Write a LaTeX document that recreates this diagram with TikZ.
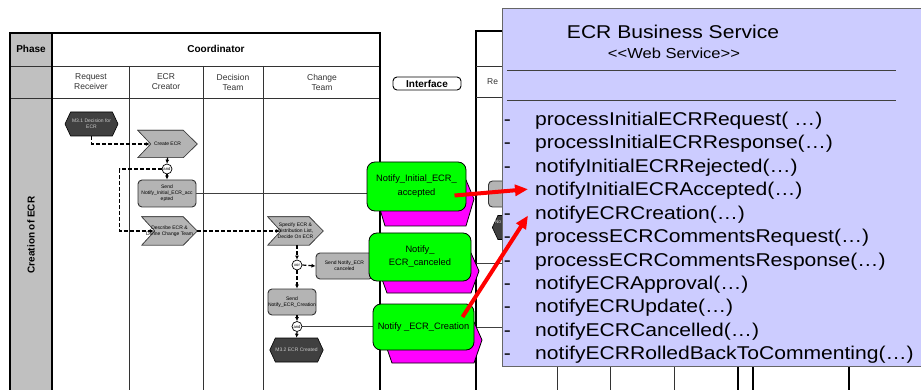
\documentclass[tikz,border=0pt]{standalone}
\usepackage{fontspec}
\setmainfont{Liberation Sans}
\newfontfamily\svcfont[FakeStretch=1.14]{Liberation Sans}
\usetikzlibrary{shapes.symbols,arrows.meta}

\definecolor{phasegray}{HTML}{C0C0C0}
\definecolor{taskgray}{HTML}{B4B4B4}
\definecolor{taskshade}{HTML}{707070}
\definecolor{eventdark}{HTML}{404040}
\definecolor{ifgreen}{HTML}{00FF00}
\definecolor{ifmagenta}{HTML}{FF00FF}
\definecolor{svcblue}{HTML}{CCCCFF}

\pgfdeclarelayer{back}
\pgfdeclarelayer{front}
\pgfsetlayers{back,main,front}

\tikzset{
  gridthin/.style={line width=0.8pt, draw=black!80},
  gridthick/.style={line width=1.8pt, draw=black},
  hdr/.style={font=\fontsize{10}{12}\selectfont\bfseries, inner sep=0},
  lanelbl/.style={font=\fontsize{8.5}{10}\selectfont, align=center, text=black!80, inner sep=0},
  pill/.style={draw, line width=0.9pt, rounded corners=4, fill=white, minimum width=68,
    minimum height=13, inner sep=0, font=\fontsize{10}{12}\selectfont\bfseries},
  smalltext/.style={font=\fontsize{5}{6}\selectfont, align=center, inner sep=0},
  chevbox/.style={smalltext, rectangle, minimum width=59, minimum height=27},
  chevface/.style={draw=black!75, fill=taskgray, line width=0.6pt},
  chevshadow/.style={draw=black!75, fill=taskshade, line width=0.6pt},
  evt/.style={smalltext, signal, signal to=east and west, signal pointer angle=130,
    draw=black, fill=eventdark, text=white!80!black, minimum width=53,
    minimum height=24, line width=0.6pt},
  gate/.style={circle, draw=black, fill=white, line width=0.7pt, minimum size=10,
    inner sep=0, font=\fontsize{4.2}{5}\selectfont},
  task/.style={smalltext, draw=black!80, fill=taskgray, rounded corners=4, line width=0.9pt},
  dflow/.style={dash pattern=on 4pt off 2pt, line width=1.2pt, -{Latex[length=4pt,width=4pt]}},
  sflow/.style={line width=1.2pt, -{Latex[length=4pt,width=4pt]}},
  link/.style={line width=0.8pt, draw=black!75},
  mg/.style={fill=ifmagenta, draw=black, line width=0.8pt},
  ifbox/.style={draw=black, fill=ifgreen, rounded corners=8, line width=0.8pt,
    align=center, font=\fontsize{9.3}{14}\selectfont, inner sep=0},
  svc/.style={draw=black!60, fill=svcblue, line width=1pt, minimum width=430,
    minimum height=358, inner sep=0},
  svctitle/.style={font=\svcfont\fontsize{18.5}{20}\selectfont, inner sep=0,
    text height=13.2, text depth=0},
  svcstereo/.style={font=\svcfont\fontsize{14.5}{16}\selectfont, inner sep=0,
    text height=10.4, text depth=0},
  opname/.style={font=\svcfont\fontsize{18.5}{20}\selectfont, inner sep=0,
    text height=13.2, text depth=0},
  svcsep/.style={line width=0.8pt, draw=black!75},
  redarrow/.style={draw=red, line width=4pt, -{Triangle[length=13pt,width=11pt]}},
}

% chevron (process step) drawn behind the text of a chevbox node
\newcommand\drawchev[1]{%
  \begin{pgfonlayer}{back}
    \draw[chevshadow, yshift=-2pt] (#1.north west) -- ([xshift=-14pt]#1.north east)
      -- (#1.east) -- ([xshift=-14pt]#1.south east) -- (#1.south west)
      -- ([xshift=13pt]#1.west) -- cycle;
    \draw[chevface] (#1.north west) -- ([xshift=-14pt]#1.north east)
      -- (#1.east) -- ([xshift=-14pt]#1.south east) -- (#1.south west)
      -- ([xshift=13pt]#1.west) -- cycle;
  \end{pgfonlayer}}

\begin{document}
\begin{tikzpicture}[x=1pt,y=-1pt]
\useasboundingbox (0,0) rectangle (921,390);

% ---------- swimlane tables ----------
\begin{pgfonlayer}{back}
  \fill[white] (0,0) rectangle (921,390);
  \fill[phasegray] (10,33) rectangle (52,390);
  \draw[gridthin] (10,66) -- (380,66) (10,98) -- (380,98);
  \draw[gridthin] (129,66) -- (129,390) (203,66) -- (203,390) (263,66) -- (263,390);
  \draw[gridthick] (10,390) -- (10,33) -- (380,33) -- (380,390) (52,33) -- (52,390);
  % partner table on the right
  \draw[gridthick] (476,390) -- (476,31) -- (930,31);
  \draw[gridthin] (476,66) -- (930,66) (476,97) -- (930,97);
  \draw[gridthin] (557,97) -- (557,390) (610,97) -- (610,390) (674,97) -- (674,390);
  \draw[gridthick] (738,31) -- (738,390) (753,31) -- (753,390) (849,31) -- (849,390);
\end{pgfonlayer}

\node[hdr] (phase) at (31,49) {Phase};
\node[hdr] (coord) at (216,49) {Coordinator};
\node[lanelbl] (lane1) at (91,82) {Request\\Receiver};
\node[lanelbl] (lane2) at (166,82) {ECR\\Creator};
\node[lanelbl] (lane3) at (233,82) {Decision\\Team};
\node[lanelbl] (lane4) at (322,82) {Change\\Team};
\node[lanelbl, anchor=west] (lane5) at (487,82) {Re};
\node[hdr, rotate=90] (phname) at (31,235) {Creation of ECR};
\node[pill] (iface) at (427,83.5) {Interface};

% ---------- coordinator process ----------
\node[evt] (m31) at (91.5,124) {M3.1 Decision for\\ECR};
\node[chevbox] (create) at (167.5,144) {Create ECR};
\drawchev{create}
\node[gate] (and1) at (167,169) {and};
\node[task, minimum width=58, minimum height=27] (sendinit) at (167,193.5)
  {Send\\Notify\_Initial\_ECR\_acc\\epted};
\node[chevbox, minimum width=55, minimum height=28] (describe) at (169.5,231)
  {Describe ECR \&\\Define Change Team};
\drawchev{describe}
\node[chevbox, minimum width=55, minimum height=28] (specify) at (295.5,231)
  {Specify ECR \&\\Distribution List,\\Decide On ECR};
\drawchev{specify}
\node[gate] (xor) at (297,265) {xor};
\node[task, minimum width=57, minimum height=26] (sendcancel) at (344.5,266)
  {Send Notify\_ECR\\canceled};
\node[task, minimum width=48, minimum height=26] (sendcreate) at (292,302)
  {Send\\Notify\_ECR\_Creation};
\node[gate] (and2) at (297,326.5) {and};
\node[evt] (m32) at (296.5,350) {M3.2 ECR Created};

% partner process (mostly hidden)
\node[task, minimum width=26, minimum height=26, anchor=west] (rtask) at (488,194) {};
\node[evt, anchor=west] (revt) at (492,227.5) {};
\node[smalltext, text=white!80!black] (revtlbl) at (498,222) {No};

\draw[dflow] (m31.south) |- ([xshift=12pt]create.west);
\draw[sflow] (create.south) -- (and1.north);
\draw[sflow] (and1.south) -- (sendinit.north);
\draw[dflow] (and1.west) -- ++(-42,0) |- ([xshift=12pt]describe.west);
\draw[dflow] (describe.east) -- ([xshift=12pt]specify.west);
\draw[dflow] (specify.south -| xor) -- (xor.north);
\draw[dflow] (xor.east) -- (sendcancel.west);
\draw[dflow] (xor.south) -- (sendcreate.north -| xor);
\draw[sflow] (sendcreate.south -| and2) -- (and2.north);
\draw[sflow] (and2.south) -- (m32.north);

% ---------- interface messages ----------
\draw[mg] (466,180) -- (474,199) -- (466,226) -- (385,226) -- (377,199) -- (385,180) -- cycle;
\draw[mg] (471,253) -- (479,271) -- (471,293) -- (387,293) -- (379,271) -- (387,253) -- cycle;
\draw[mg] (474,322) -- (482,340) -- (474,363) -- (392,363) -- (384,340) -- (392,322) -- cycle;

\node[ifbox, minimum width=99, minimum height=49] (g1) at (416.5,186.5)
  {Notify\_Initial\_ECR\_\\accepted};
\node[ifbox, minimum width=102, minimum height=48, font=\fontsize{9.3}{13}\selectfont]
  (g2) at (420,257) {Notify\_\\ECR\_canceled};
\node[ifbox, minimum width=101, minimum height=46] (g3) at (423.5,327)
  {Notify \_ECR\_Creation};

\coordinate (rt2) at (515,263);
\coordinate (rt3) at (515,327);
\begin{pgfonlayer}{back}
  \draw[link] (sendinit.east) -- (sendinit.east -| g1.west);
  \draw[link] (and2.east) -- (and2.east -| g3.west);
  \draw[link] (rt2 -| g2.east) -- (rt2);
  \draw[link] (rt3 -| g3.east) -- (rt3);
\end{pgfonlayer}

% ---------- web service class ----------
\begin{pgfonlayer}{front}
  \node[svc, anchor=north west] (svc) at (502,8) {};
  \node[svctitle] (title) at (673,32) {ECR Business Service};
  \node[svcstereo] (stereo) at (674,53) {<\kern0pt<Web Service>\kern0pt>};
  \draw[svcsep] (507,70) -- (896,70) (507,100) -- (896,100);
  \foreach \t [count=\i] in {processInitialECRRequest( …), processInitialECRResponse(…),
      notifyInitialECRRejected(…), notifyInitialECRAccepted(…), notifyECRCreation(…),
      processECRCommentsRequest(…), processECRCommentsResponse(…),
      notifyECRApproval(…), notifyECRUpdate(…), notifyECRCancelled(…),
      notifyECRRolledBackToCommenting(…)} {
    \node[opname, anchor=west] (op\i) at (535,95.6+23.4*\i) {\t};
    \node[opname] (dash\i) at (507.5,95.6+23.4*\i) {-};
  }
  \coordinate (a1s) at ([shift={(38,9)}]g1.center);
  \coordinate (a1e) at ([shift={(-7,0)}]op4.west);
  \coordinate (a2s) at ([shift={(39,-10)}]g3.center);
  \coordinate (a2e) at ([shift={(-7,3)}]op5.west);
  \draw[redarrow] (a1s) -- (a1e);
  \draw[redarrow] (a2s) -- (a2e);
\end{pgfonlayer}
\end{tikzpicture}
\end{document}
